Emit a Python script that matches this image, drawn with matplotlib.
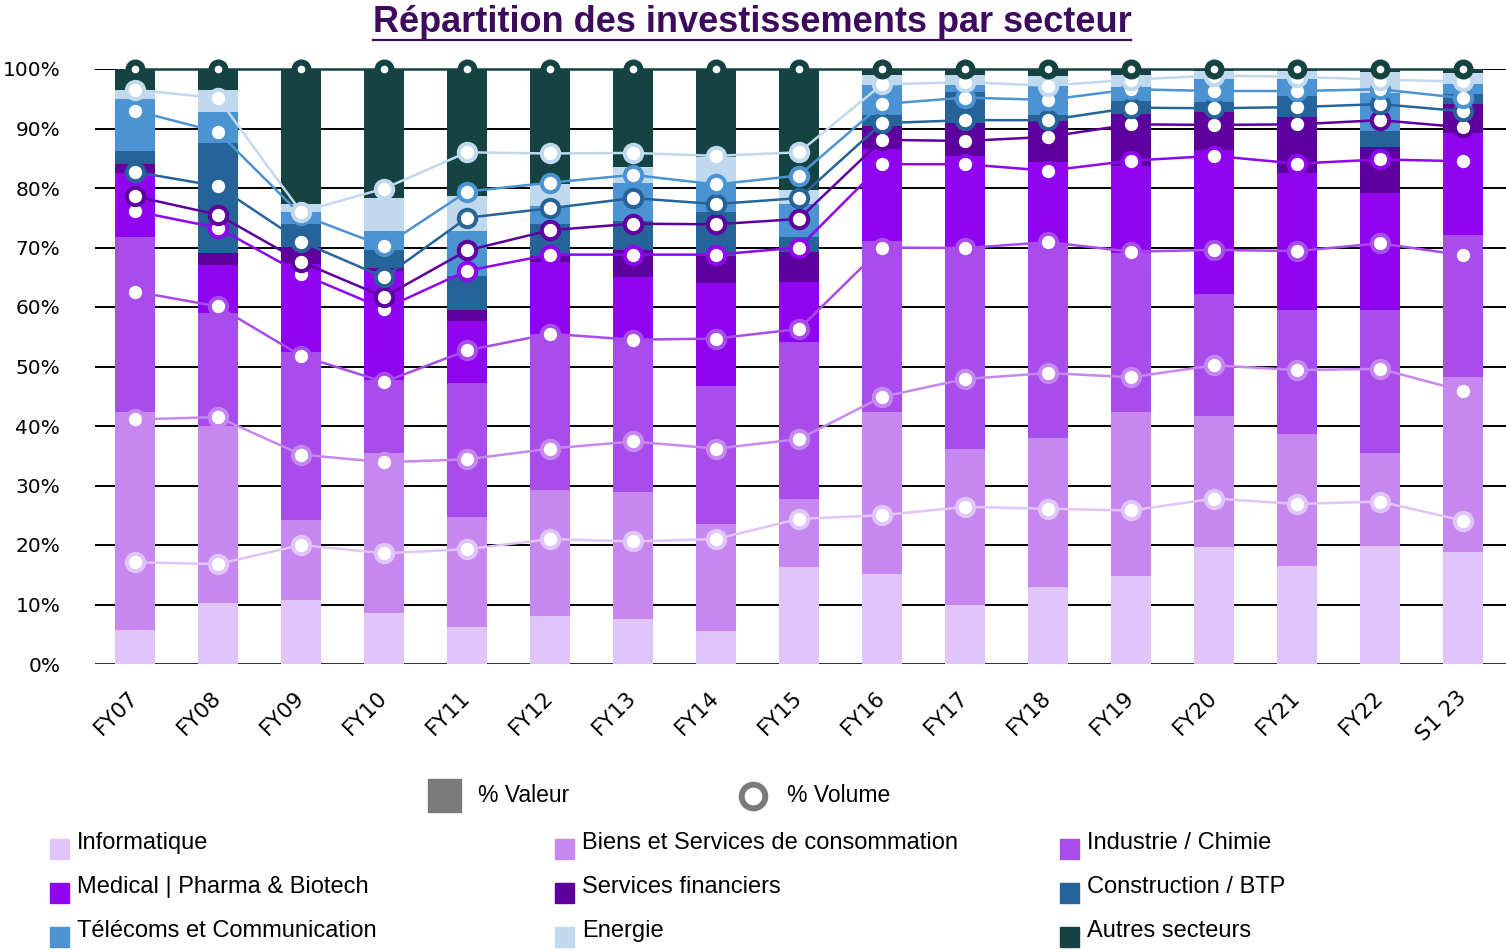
import numpy as np
import matplotlib
matplotlib.use("Agg")
import matplotlib.pyplot as plt
from matplotlib.patches import Rectangle
from matplotlib.lines import Line2D

W, H = 1506, 952

years = ["FY07", "FY08", "FY09", "FY10", "FY11", "FY12", "FY13", "FY14", "FY15",
         "FY16", "FY17", "FY18", "FY19", "FY20", "FY21", "FY22", "S1 23"]

sectors = ["Informatique", "Biens et Services de consommation", "Industrie / Chimie",
           "Medical | Pharma & Biotech", "Services financiers", "Construction / BTP",
           "Télécoms et Communication", "Energie", "Autres secteurs"]
colors = ["#e0c4fa", "#c688f0", "#a84cec", "#9005f0", "#5e009e",
          "#266399", "#4b93d2", "#c0d9ef", "#154341"]

# % Valeur (bars), share of each sector per year
val_info    = [5.7, 10.3, 10.7, 8.5, 6.2, 8.0, 7.5, 5.5, 16.3, 15.1, 10.0, 13.0, 14.8, 19.7, 16.5, 19.9, 18.8]
val_biens   = [36.7, 29.7, 13.5, 27.0, 18.5, 21.3, 21.4, 18.0, 11.4, 27.3, 26.2, 24.9, 27.6, 22.0, 22.2, 15.6, 29.4]
val_indus   = [29.4, 19.0, 28.2, 12.2, 22.5, 26.2, 25.5, 23.2, 26.5, 28.7, 33.9, 32.9, 26.6, 20.5, 20.8, 24.0, 23.9]
val_medical = [10.8, 8.1, 14.9, 18.4, 10.4, 12.1, 10.7, 17.3, 10.0, 15.4, 15.3, 13.6, 14.7, 24.2, 23.0, 19.7, 17.1]
val_finance = [1.5, 1.9, 2.8, 0.5, 1.9, 1.0, 4.5, 4.6, 5.1, 3.9, 5.6, 6.8, 8.8, 6.3, 9.5, 7.7, 5.0]
val_btp     = [2.1, 18.6, 3.9, 3.0, 5.7, 5.4, 4.9, 7.3, 2.5, 1.9, 5.2, 1.0, 2.2, 1.8, 3.4, 2.7, 1.6]
val_telecom = [8.7, 5.2, 1.9, 3.2, 7.6, 2.9, 6.4, 5.0, 5.5, 5.0, 1.1, 5.0, 2.3, 3.8, 3.0, 6.4, 1.6]
val_energie = [1.6, 3.7, 1.4, 5.6, 5.8, 3.7, 2.6, 4.3, 2.4, 1.7, 1.7, 1.7, 2.0, 1.3, 1.3, 3.5, 1.9]
val_autres  = [3.5, 3.5, 22.7, 21.6, 21.4, 19.4, 16.5, 14.8, 20.3, 1.0, 1.0, 1.1, 1.0, 0.4, 0.3, 0.5, 0.7]

# % Volume (lines), share of each sector per year
vol_info    = [17.1, 16.8, 20.0, 18.6, 19.3, 21.0, 20.6, 21.0, 24.4, 25.0, 26.4, 26.1, 25.8, 27.8, 26.9, 27.3, 24.1]
vol_biens   = [24.0, 24.7, 15.2, 15.3, 15.1, 15.2, 16.8, 15.2, 13.4, 19.9, 21.5, 22.8, 22.4, 22.4, 22.5, 22.3, 21.8]
vol_indus   = [21.5, 18.6, 16.6, 13.5, 18.3, 19.3, 17.1, 18.5, 18.5, 25.1, 22.0, 22.0, 21.1, 19.4, 20.0, 21.1, 22.8]
vol_medical = [13.5, 13.2, 13.8, 12.3, 13.4, 13.3, 14.3, 14.1, 13.7, 14.0, 14.1, 12.0, 15.3, 15.8, 14.7, 14.1, 15.8]
vol_finance = [2.5, 2.2, 2.0, 2.0, 3.4, 4.1, 5.2, 5.1, 4.8, 4.1, 3.9, 5.7, 6.1, 5.2, 6.6, 6.6, 5.7]
vol_btp     = [4.1, 4.8, 3.4, 3.3, 5.5, 3.7, 4.3, 3.4, 3.5, 2.8, 3.5, 2.8, 2.8, 2.8, 2.9, 2.7, 2.7]
vol_telecom = [10.3, 9.1, 4.5, 5.2, 4.4, 4.3, 3.9, 3.3, 3.8, 3.2, 3.8, 3.4, 3.1, 2.9, 2.7, 2.5, 2.2]
vol_energie = [3.5, 5.7, 0.5, 9.7, 6.6, 4.9, 3.7, 4.8, 3.9, 3.3, 2.6, 2.4, 1.6, 2.6, 2.4, 1.6, 2.8]
vol_autres  = [3.5, 4.9, 24.0, 20.1, 14.0, 14.2, 14.1, 14.6, 14.0, 2.6, 2.2, 2.8, 1.8, 1.1, 1.3, 1.8, 2.1]

valeur = [val_info, val_biens, val_indus, val_medical, val_finance,
          val_btp, val_telecom, val_energie, val_autres]
volume = [vol_info, vol_biens, vol_indus, vol_medical, vol_finance,
          vol_btp, vol_telecom, vol_energie, vol_autres]


def fx(px):
    return px / W


def fy(py):
    return 1 - py / H


fig = plt.figure(figsize=(W / 100, H / 100), dpi=100)
ax = fig.add_axes([fx(95), fy(664), fx(1506) - fx(95), fy(69) - fy(664)])

x = np.arange(len(years))
bottom = np.zeros(len(years))
for vals, c in zip(valeur, colors):
    ax.bar(x, vals, bottom=bottom, width=0.49, color=c, linewidth=0, zorder=2)
    bottom += np.array(vals)

cum = np.cumsum(np.array(volume), axis=0)
cum = cum / cum[-1] * 100
for i, c in enumerate(colors):
    if i == len(colors) - 1:
        ms, mew = 10, 4.4
    else:
        ms, mew = 12.5, 2.9
    ax.plot(x, cum[i], color=c, lw=1.8, marker="o", ms=ms, mfc="white",
            mec=c, mew=mew, zorder=3 + i * 0.01, clip_on=False)

ax.set_xlim(-0.482, 16.518)
ax.set_ylim(0, 100)
ax.set_yticks(range(0, 101, 10))
ax.set_yticklabels([f"{v}%" for v in range(0, 101, 10)], fontsize=14.5)
ax.yaxis.grid(True, color="black", lw=1.4, zorder=0)
ax.set_axisbelow(True)
ax.axhline(0, color="#333333", lw=2.2, zorder=1)
for s in ax.spines.values():
    s.set_visible(False)
ax.tick_params(axis="y", length=0, pad=25)
ax.tick_params(axis="x", length=0, pad=22)
ax.set_xticks(x)
ax.set_xticklabels(years, rotation=45, ha="right", va="center",
                   rotation_mode="anchor", fontsize=15.5)

title = fig.text(fx(752), fy(22), "Répartition des investissements par secteur",
                 ha="center", va="center", fontsize=26, fontweight="bold",
                 color="#3d0a5e", family=["Liberation Sans", "DejaVu Sans"])
fig.canvas.draw()
bb = title.get_window_extent()
fig.add_artist(Line2D([bb.x0 / W, bb.x1 / W], [fy(40), fy(40)], color="#3d0a5e",
                      lw=1.6, transform=fig.transFigure))

# legend: valeur / volume
fig.add_artist(Rectangle((fx(428), fy(812)), 33 / W, 33 / H, color="#7a7a7a",
                         transform=fig.transFigure))
fig.text(fx(478), fy(796), "% Valeur", ha="left", va="center", fontsize=16.5,
         family=["Liberation Sans", "DejaVu Sans"])
fig.add_artist(Line2D([fx(753)], [fy(796)], marker="o", ms=17, mfc="white",
                      mec="#7a7a7a", mew=4.3, transform=fig.transFigure))
fig.text(fx(787), fy(796), "% Volume", ha="left", va="center", fontsize=16.5,
         family=["Liberation Sans", "DejaVu Sans"])

# legend: sectors
col_x = [50, 555, 1060]
row_y = [843, 887, 931]
for i, (name, c) in enumerate(zip(sectors, colors)):
    cx = col_x[i % 3]
    ry = row_y[i // 3]
    fig.add_artist(Rectangle((fx(cx), fy(ry + 16)), 19 / W, 20 / H, color=c,
                             transform=fig.transFigure))
    fig.text(fx(cx + 27), fy(ry), name, ha="left", va="center", fontsize=17,
             family=["Liberation Sans", "DejaVu Sans"])

fig.savefig("out.png", dpi=100)
